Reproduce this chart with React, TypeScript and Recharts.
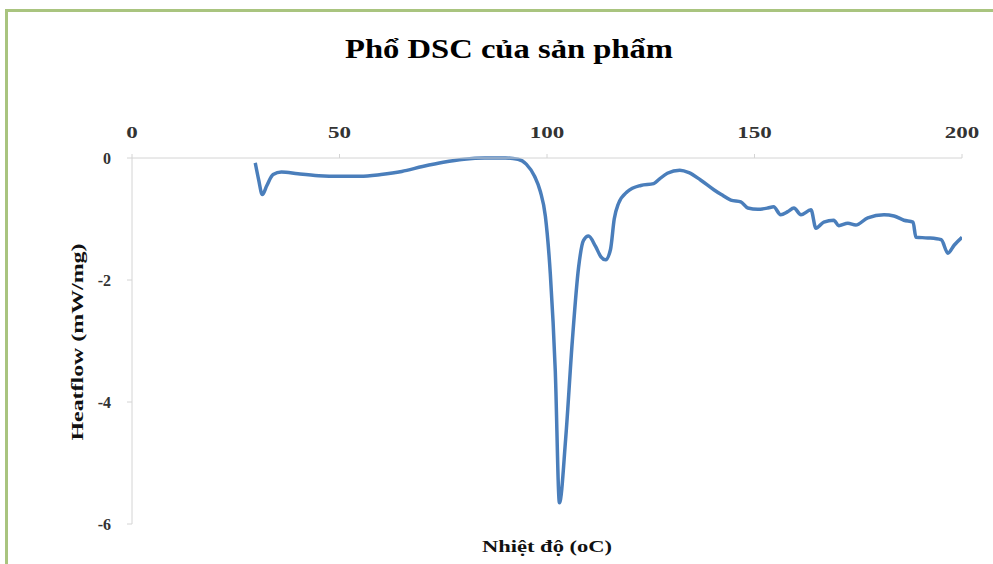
import React from 'react';
import { LineChart, Line, XAxis, YAxis } from 'recharts';

// Temperature (oC) and heat flow (mW/mg)
const temperature = [
  29.7, 30.5, 31.4, 32.5, 34, 36, 40, 45, 50, 55, 60, 65, 70, 75, 80, 85, 90, 93, 95, 97,
  98.4, 99.6, 100.8, 102, 103, 104.5, 106.1, 107.6, 108.8, 110, 111.7, 113, 114.1, 115.3,
  116.2, 117.2, 119.4, 122.6, 125.7, 127, 129, 132, 134.2, 137, 140.2, 142, 144.3, 146.7,
  148.4, 150.8, 153.2, 154.6, 156.3, 158, 159.5, 161.2, 163.6, 164.8, 166.7, 169.1, 170.3,
  172.5, 174.4, 177.3, 181.2, 183.6, 186, 188.2, 188.9, 191.8, 195, 196.6, 198.1, 200,
];
const heatflow = [
  -0.08, -0.35, -0.6, -0.45, -0.27, -0.23, -0.26, -0.29, -0.3, -0.3, -0.27, -0.22, -0.14,
  -0.07, -0.02, 0, 0, -0.02, -0.1, -0.3, -0.55, -0.95, -1.9, -3.5, -5.65, -4.6, -3.0, -1.8,
  -1.35, -1.28, -1.45, -1.62, -1.67, -1.5, -1.0, -0.75, -0.55, -0.45, -0.42, -0.35, -0.25,
  -0.2, -0.24, -0.36, -0.52, -0.6, -0.69, -0.72, -0.82, -0.84, -0.82, -0.8, -0.93, -0.88,
  -0.82, -0.93, -0.85, -1.15, -1.05, -1.02, -1.11, -1.07, -1.1, -0.98, -0.93, -0.95, -1.02,
  -1.05, -1.3, -1.31, -1.34, -1.56, -1.43, -1.3,
];
const xTicks = [0, 50, 100, 150, 200];
const yTicks = [0, -2, -4, -6];

const chartData = temperature.map((t, i) => ({ t, q: heatflow[i] }));

const serif = '"Liberation Serif", "DejaVu Serif", serif';

const XTick = ({ x, y, payload }: any) => {
  const label = String(payload.value);
  return (
    <text x={x} y={y} textAnchor="middle" fontFamily={serif} fontWeight="bold" fontSize={16}
      fill="#333" textLength={label.length * 11.5} lengthAdjust="spacingAndGlyphs">
      {label}
    </text>
  );
};

const YTick = ({ x, y, payload }: any) => {
  const label = String(payload.value);
  return (
    <text x={x} y={y + 6} textAnchor="end" fontFamily={serif} fontWeight="bold" fontSize={16}
      fill="#333">
      {label}
    </text>
  );
};

export default function App() {
  return (
    <div style={{ position: 'absolute', left: 0, top: 0, width: 993, height: 564, overflow: 'hidden', background: '#fff' }}>
      <div style={{ position: 'absolute', left: 5, top: 9, width: 1100, height: 700, border: '3px solid #a9c47f' }} />
      <div style={{ position: 'absolute', left: 0, top: 0 }}>
        <LineChart width={993} height={564} data={chartData}
          margin={{ top: 128, left: 92, right: 31, bottom: 40 }}>
          <XAxis dataKey="t" type="number" orientation="top" domain={[0, 200]} ticks={xTicks}
            height={30} tickSize={4} tickMargin={16} tick={<XTick />}
            stroke="#d4d4d4" allowDataOverflow />
          <YAxis type="number" domain={[-6, 0]} ticks={yTicks} width={40} tickSize={5}
            tickMargin={16} tick={<YTick />} stroke="#d4d4d4" />
          <Line type="monotone" dataKey="q" stroke="#4a7ebb" strokeWidth={3.5} dot={false}
            isAnimationActive={false} />
        </LineChart>
      </div>
      <svg width={993} height={564} style={{ position: 'absolute', left: 0, top: 0, pointerEvents: 'none' }}>
        <text x={509} y={58} textAnchor="middle" fontFamily={serif} fontWeight="bold" fontSize={27}
          fill="#000" textLength={328} lengthAdjust="spacingAndGlyphs">
          Phổ DSC của sản phẩm
        </text>
        <text x={547} y={552} textAnchor="middle" fontFamily={serif} fontWeight="bold" fontSize={16}
          fill="#111" textLength={130} lengthAdjust="spacingAndGlyphs">
          Nhiệt độ (oC)
        </text>
        <text x={0} y={0} transform="translate(83 342) rotate(-90)" textAnchor="middle"
          fontFamily={serif} fontWeight="bold" fontSize={16} fill="#111" textLength={197}
          lengthAdjust="spacingAndGlyphs">
          Heatflow (mW/mg)
        </text>
      </svg>
    </div>
  );
}
